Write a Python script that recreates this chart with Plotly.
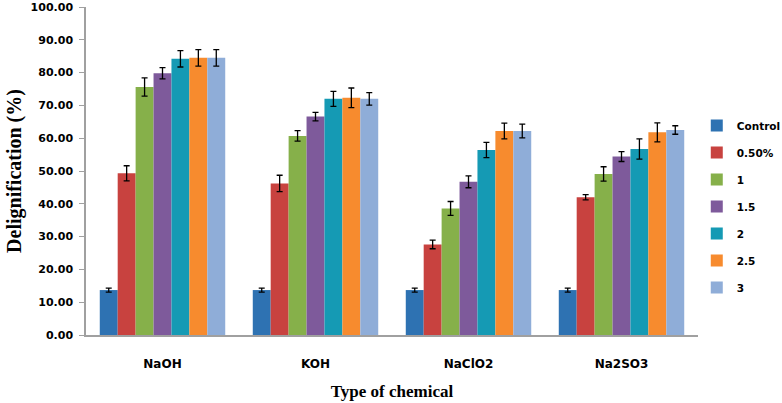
import plotly.graph_objects as go

categories = ["NaOH", "KOH", "NaClO2", "Na2SO3"]
series_names = ["Control", "0.50%", "1", "1.5", "2", "2.5", "3"]
colors = ["#2E72B2", "#C8423F", "#86B04A", "#7E5A9B", "#159AB4", "#F78B2E", "#8FADD8"]

control = [13.7, 13.7, 13.7, 13.7]
c050 = [49.3, 46.2, 27.6, 42.0]
c1 = [75.6, 60.7, 38.6, 49.1]
c15 = [79.8, 66.6, 46.7, 54.4]
c2 = [84.2, 72.0, 56.4, 56.7]
c25 = [84.5, 72.3, 62.2, 61.8]
c3 = [84.5, 72.0, 62.2, 62.5]

err_control = [0.6, 0.6, 0.6, 0.6]
err_050 = [2.3, 2.5, 1.3, 0.8]
err_1 = [2.8, 1.6, 2.1, 2.2]
err_15 = [1.7, 1.3, 1.8, 1.5]
err_2 = [2.5, 2.3, 2.3, 3.1]
err_25 = [2.5, 3.0, 2.4, 2.9]
err_3 = [2.5, 1.9, 2.1, 1.3]

values = [control, c050, c1, c15, c2, c25, c3]
errors = [err_control, err_050, err_1, err_15, err_2, err_25, err_3]

tick_vals = [0, 10, 20, 30, 40, 50, 60, 70, 80, 90, 100]

bold_sans = dict(family="DejaVu Sans", size=11, color="black", weight="bold")
legend_font = dict(family="DejaVu Sans", size=10.5, color="black", weight="bold")
ytitle_font = dict(family="Liberation Serif", size=20, color="black", weight="bold")
xtitle_font = dict(family="Liberation Serif", size=17, color="black", weight="bold")

fig = go.Figure()
for name, vals, errs, col in zip(series_names, values, errors, colors):
    fig.add_trace(go.Bar(
        name=name, x=categories, y=vals, marker_color=col,
        marker_line_width=0, legendgroup=name,
        error_y=dict(type="data", array=errs, visible=True,
                     color="black", thickness=1.3, width=3),
    ))

fig.update_layout(
    width=782, height=403,
    margin=dict(l=86, r=84, t=7, b=68, autoexpand=False),
    paper_bgcolor="white", plot_bgcolor="white",
    barmode="group", bargap=0.18, bargroupgap=0,
    showlegend=True,
    legend=dict(x=0.998, y=0.683, xanchor="left", yanchor="top",
                font=legend_font, tracegroupgap=8, bgcolor="rgba(0,0,0,0)"),
    xaxis=dict(
        showline=True, linecolor="#A0A0A0", linewidth=1.5,
        ticks="outside", ticklen=17, tickcolor="rgba(0,0,0,0)",
        tickfont=dict(family="DejaVu Sans", size=12, color="black", weight="bold"),
        title=dict(text="Type of chemical", font=xtitle_font, standoff=15),
    ),
    yaxis=dict(
        range=[0, 100], tickvals=tick_vals, tickformat=".2f",
        showline=True, linecolor="#A0A0A0", linewidth=1.5,
        ticks="outside", ticklen=5, tickcolor="#A0A0A0",
        ticklabelstandoff=4,
        showgrid=False, zeroline=False,
        tickfont=bold_sans,
        title=dict(text="Delignification (%)", font=ytitle_font, standoff=4),
    ),
)

fig.write_html("out.html", config={"displayModeBar": False},
               post_script="document.body.style.margin='0px';")
